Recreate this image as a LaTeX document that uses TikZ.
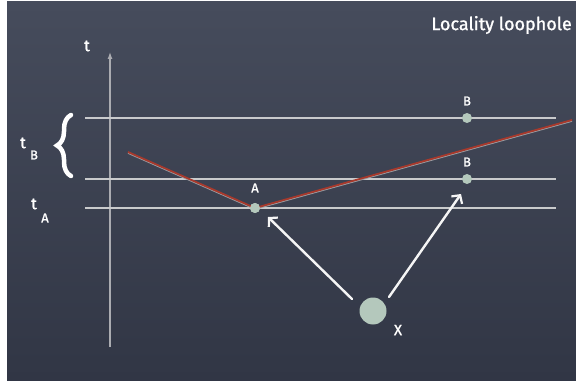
\documentclass[tikz,border=0pt]{standalone}
\usepackage{fontspec}
\setmainfont{Fira Sans}
\newfontfamily\chalk{Fira Sans}[FakeBold=1.2]
\usetikzlibrary{arrows.meta,decorations.pathreplacing}
\definecolor{slatetop}{HTML}{464C5C}
\definecolor{slatebot}{HTML}{313645}
\definecolor{chalkline}{HTML}{C9CACC}
\definecolor{dotgreen}{HTML}{B4C8BC}
\definecolor{redchalk}{HTML}{A8392C}
\tikzset{
  timeline/.style={draw=chalkline, line width=1.3pt},
  event/.style={circle, fill=dotgreen, inner sep=0pt, minimum size=10pt},
  lbl/.style={text=white, font=\chalk\fontsize{13}{13}\selectfont, inner sep=0pt},
  tlbl/.style={text=white, font=\chalk\fontsize{16}{16}\selectfont, inner sep=0pt},
  chalkarrow/.style={draw=white!92!gray, line width=2.4pt, line cap=round,
    -{Straight Barb[length=6pt,width=13pt,line width=2.2pt]}},
}
\begin{document}
\begin{tikzpicture}[x=1pt,y=-1pt]
\useasboundingbox (0,0) rectangle (576,385);
\fill[white] (0,0) rectangle (576,385);
\shade[top color=slatetop, bottom color=slatebot] (7,2) rectangle (576,380);
% axis
\coordinate (axb) at (110,347);
\coordinate (axt) at (110,52);
\draw[draw=chalkline!80!slatebot, line width=1.2pt, -{Latex[length=7pt,width=5pt]}] (axb) -- (axt);
\node[tlbl] (tlab) at (87,46) {t};
% time lines
\coordinate (l1a) at (85,118); \coordinate (l1b) at (556,118);
\coordinate (l2a) at (85,179); \coordinate (l2b) at (556,179);
\coordinate (l3a) at (85,208); \coordinate (l3b) at (556,208);
\draw[timeline] (l1a) -- (l1b);
\draw[timeline] (l2a) -- (l2b);
\draw[timeline] (l3a) -- (l3b);
% light cone (red)
\coordinate (rl) at (128,152);
\coordinate (rr) at (572,120);
\node[event] (A) at (255,208) {};
\draw[chalkline!70!slatebot, line width=1.2pt] ([yshift=-1.2pt]rl) -- ([yshift=-1.2pt]A.center) -- ([yshift=-1.2pt]rr);
\draw[redchalk, line width=1.8pt, line join=round] (rl) -- (A.center) -- (rr);
\node[event] at (255,208) {};
% events
\node[event] (B1) at (467,118) {};
\node[event] (B2) at (467,179) {};
\node[event, minimum size=27pt] (X) at (373,311) {};
% labels
\node[lbl] (Alab) at (255,188) {A};
\node[lbl] (B1lab) at (467,101) {B};
\node[lbl] (B2lab) at (467,162) {B};
\node[lbl, font=\chalk\fontsize{15}{15}\selectfont] (Xlab) at (398,330) {X};
\node[tlbl] (tB) at (23,143) {t};
\node[lbl] (tBs) at (34,155) {B};
\node[tlbl] (tA) at (34,204) {t};
\node[lbl] (tAs) at (45,218) {A};
\node[text=white, font=\chalk\fontsize{18}{18}\selectfont, inner sep=0pt, anchor=east] (title) at (572,25) {Locality loophole};
% brace
\coordinate (br1) at (71,176);
\coordinate (br2) at (71,115);
\draw[white, line width=4.5pt, line cap=round, decorate, decoration={brace, amplitude=14pt, aspect=0.5}] (br1) -- (br2);
% arrows from X
\coordinate (ea) at (268,217);
\coordinate (eb) at (461,194);
\coordinate (sa) at (352,299);
\coordinate (sb) at (389,297);
\draw[chalkarrow] (sa) -- (ea);
\draw[chalkarrow] (sb) -- (eb);
\end{tikzpicture}
\end{document}
